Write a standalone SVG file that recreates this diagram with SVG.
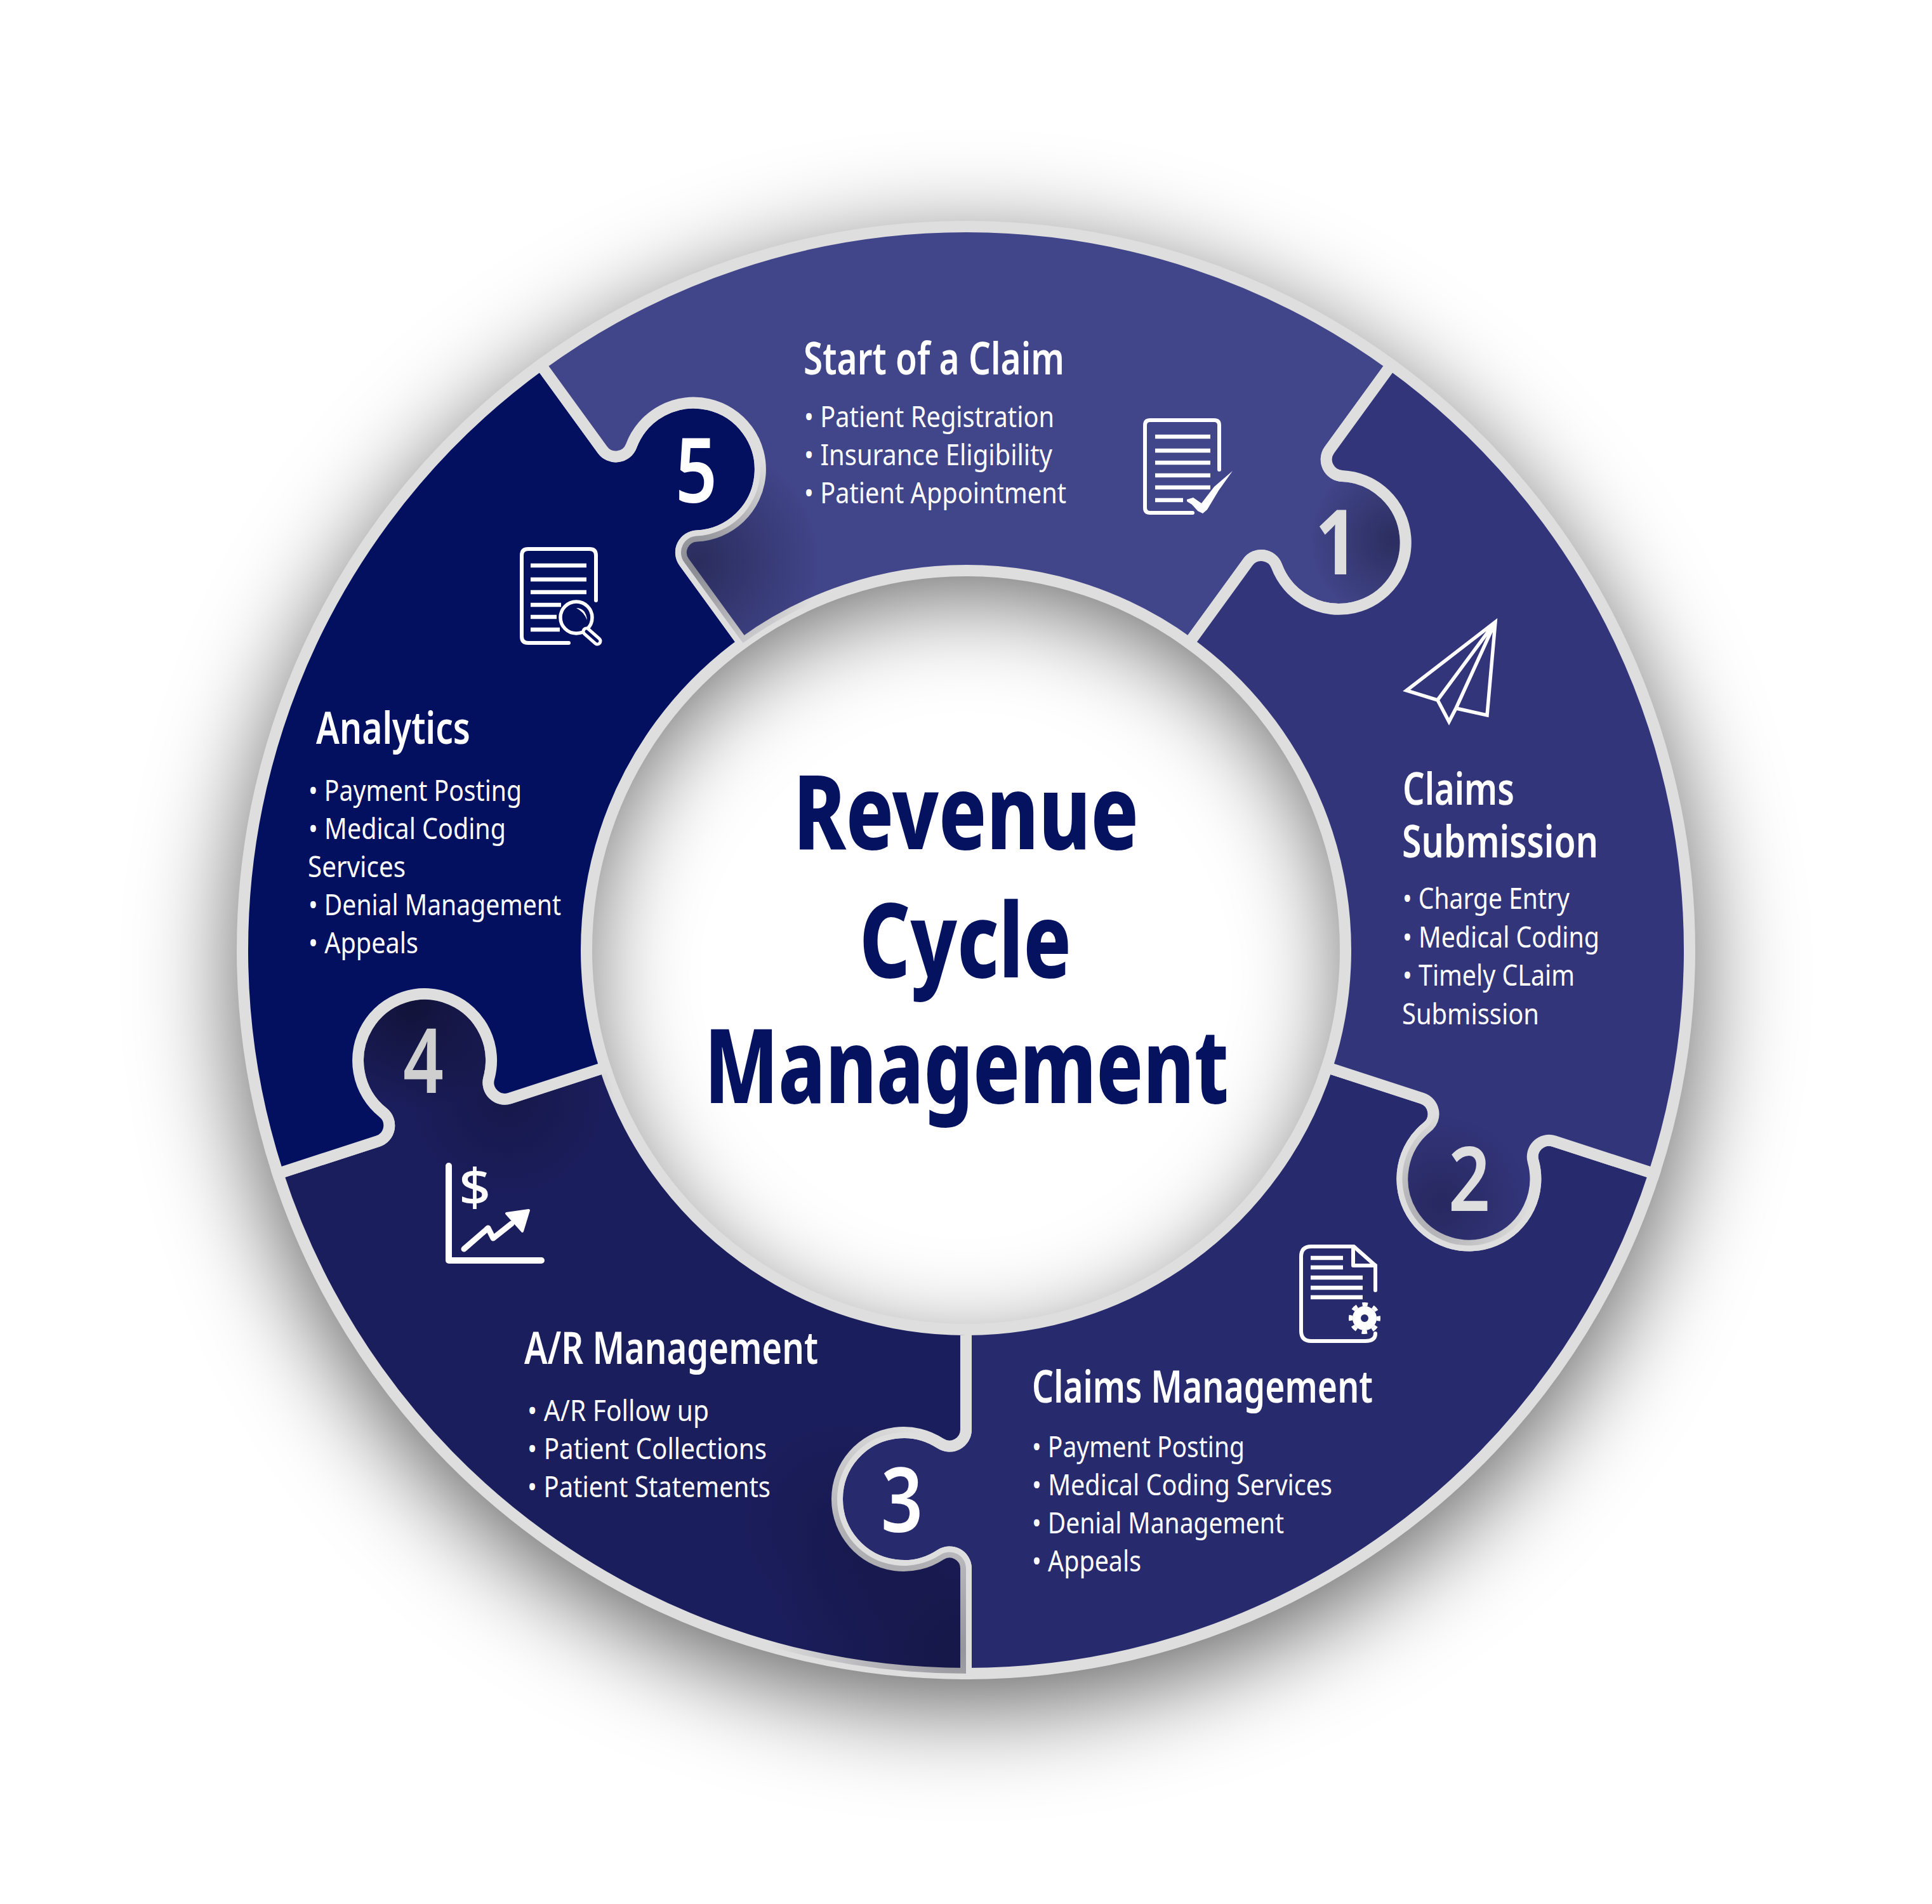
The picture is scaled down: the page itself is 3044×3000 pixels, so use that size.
<svg xmlns="http://www.w3.org/2000/svg" width="3044" height="3000" viewBox="0 0 3044 3000">
<style>
text{font-family:"Noto Sans","Open Sans",sans-serif;fill:#fff}
.h{font-size:70px;font-weight:600}
.b{font-size:46px;font-weight:400}
.t{font-size:162px;font-weight:800;fill:#04125f}
.n{font-size:141px;font-weight:600}
.p{stroke:#dedede;stroke-width:18;stroke-linejoin:miter;stroke-miterlimit:6}
.ic{fill:none;stroke:#fff;stroke-width:6;stroke-linecap:round;stroke-linejoin:round}
.ln{stroke:#fff;stroke-width:6.5;fill:none}
</style>
<defs>
<path id="piece" d="M0 598V755.6A26 26 0 0 1 -40.3 777.3A105 105 0 1 0 -40.3 952.7A26 26 0 0 1 0 974.4V1140A1140 1140 0 0 0 1084.2 352.3L926.7 301.1A26 26 0 0 0 893.6 332.7A105 105 0 1 1 726.8 278.5A26 26 0 0 0 718.6 233.5L568.7 184.8A598 598 0 0 1 0 598Z"/>
<clipPath id="c-start"><use href="#piece" transform="translate(1522 1497) rotate(216)"/></clipPath>
<clipPath id="c-sub"><use href="#piece" transform="translate(1522 1497) rotate(288)"/></clipPath>
<clipPath id="c-ar"><use href="#piece" transform="translate(1522 1497) rotate(72)"/></clipPath>
<radialGradient id="shade"><stop offset="0" stop-color="#0b0b20" stop-opacity="1"/><stop offset=".45" stop-color="#0b0b20" stop-opacity=".55"/><stop offset="1" stop-color="#0b0b20" stop-opacity="0"/></radialGradient>
<filter id="drop" filterUnits="userSpaceOnUse" x="0" y="0" width="3044" height="3000"><feGaussianBlur stdDeviation="80"/></filter>
</defs>
<rect width="3044" height="3000" fill="#fff"/>
<path id="ring-shadow" d="M1522 388a1149 1149 0 1 0 .01 0ZM1522 930a607 607 0 1 1 -.01 0Z" fill="#000" fill-opacity=".62" fill-rule="evenodd" filter="url(#drop)"/>

<g id="piece-claims-management">
<use href="#piece" class="p" fill="#272a6c" transform="translate(1522 1497)"/>
<path class="ic" d="M2167 2033V1994L2133 1964H2066Q2050 1964 2050 1980V2097Q2050 2113 2066 2113H2151Q2167 2113 2167 2101"/>
<path class="ic" d="M2132 1964V1994H2167"/>
<path class="ln" d="M2065 1982H2116M2065 1997H2116M2065 2013H2147M2065 2029H2147M2065 2044H2147"/>
<circle cx="2150" cy="2077" r="12.5" fill="none" stroke="#fff" stroke-width="13"/>
<circle cx="2150" cy="2077" r="22" fill="none" stroke="#fff" stroke-width="6" stroke-dasharray="8.64 8.64" stroke-dashoffset="4.3"/>
<text class="h" x="1626" y="2210" textLength="537" lengthAdjust="spacingAndGlyphs">Claims Management</text>
<text class="b" x="1626" y="2296" textLength="335" lengthAdjust="spacingAndGlyphs">• Payment Posting</text>
<text class="b" x="1626" y="2356" textLength="473" lengthAdjust="spacingAndGlyphs">• Medical Coding Services</text>
<text class="b" x="1626" y="2416" textLength="397" lengthAdjust="spacingAndGlyphs">• Denial Management</text>
<text class="b" x="1626" y="2476" textLength="172" lengthAdjust="spacingAndGlyphs">• Appeals</text>
<text class="n" x="1388" y="2414" textLength="66" lengthAdjust="spacingAndGlyphs">3</text>
</g>

<g id="piece-ar-management">
<use href="#piece" class="p" fill="#1b1e5d" transform="translate(1522 1497) rotate(72)"/>
<g clip-path="url(#c-ar)">
<circle cx="1510" cy="2600" r="300" fill="url(#shade)" opacity=".35"/>
<circle cx="1330" cy="2400" r="190" fill="url(#shade)" opacity=".2"/>
<circle cx="650" cy="1580" r="170" fill="url(#shade)" opacity=".6"/>
<circle cx="800" cy="1730" r="170" fill="url(#shade)" opacity=".3"/>
</g>
<path d="M707 1837V1986H853" fill="none" stroke="#fff" stroke-width="10" stroke-linecap="round" stroke-linejoin="round"/>
<path class="ic" style="stroke-width:9" d="M731 1968L769 1935L777 1951L806 1928"/>
<path d="M798 1912L833 1907L823 1940Z" fill="#fff" stroke="#fff" stroke-width="4" stroke-linejoin="round"/>
<text x="723" y="1900" style="font-size:82px;font-weight:500" textLength="50" lengthAdjust="spacingAndGlyphs">$</text>
<text class="h" x="826" y="2149" textLength="463" lengthAdjust="spacingAndGlyphs">A/R Management</text>
<text class="b" x="831" y="2239" textLength="286" lengthAdjust="spacingAndGlyphs">• A/R Follow up</text>
<text class="b" x="831" y="2299" textLength="377" lengthAdjust="spacingAndGlyphs">• Patient Collections</text>
<text class="b" x="831" y="2359" textLength="383" lengthAdjust="spacingAndGlyphs">• Patient Statements</text>
<text class="n" x="635" y="1722" textLength="64" lengthAdjust="spacingAndGlyphs" style="fill:#cfcfcf">4</text>
</g>

<g id="piece-analytics">
<use href="#piece" class="p" fill="#031060" transform="translate(1522 1497) rotate(144)"/>
<path class="ic" d="M939 946V875Q939 865 929 865H832Q822 865 822 875V1003Q822 1013 832 1013H896"/>
<path class="ln" d="M836 891H924M836 913H924M836 933H924M836 953H884M836 972H877M836 992H882"/>
<circle cx="908" cy="973" r="25" fill="none" stroke="#fff" stroke-width="5.5"/>
<path d="M924 995L941 1010" stroke="#fff" stroke-width="15" stroke-linecap="round"/>
<path d="M924 995L941 1010" stroke="#031060" stroke-width="5" stroke-linecap="round"/>
<path d="M908 958Q923 958 925 977Q920 964 908 958Z" fill="#fff"/>
<text class="h" x="498" y="1172" textLength="243" lengthAdjust="spacingAndGlyphs">Analytics</text>
<text class="b" x="486" y="1262" textLength="336" lengthAdjust="spacingAndGlyphs">• Payment Posting</text>
<text class="b" x="486" y="1322" textLength="311" lengthAdjust="spacingAndGlyphs">• Medical Coding</text>
<text class="b" x="485" y="1382" textLength="154" lengthAdjust="spacingAndGlyphs">Services</text>
<text class="b" x="486" y="1442" textLength="398" lengthAdjust="spacingAndGlyphs">• Denial Management</text>
<text class="b" x="486" y="1502" textLength="173" lengthAdjust="spacingAndGlyphs">• Appeals</text>
<text class="n" x="1064" y="792" textLength="66" lengthAdjust="spacingAndGlyphs">5</text>
</g>

<g id="piece-start-of-a-claim">
<use href="#piece" class="p" fill="#414589" transform="translate(1522 1497) rotate(216)"/>
<g clip-path="url(#c-start)">
<circle cx="1100" cy="885" r="190" fill="url(#shade)" opacity=".42"/>
<circle cx="2195" cy="850" r="130" fill="url(#shade)" opacity=".4"/>
</g>
<path class="ic" d="M1921 740V670Q1921 662 1913 662H1812Q1804 662 1804 670V800Q1804 808 1812 808H1879"/>
<path class="ln" d="M1820 688H1907M1820 710H1907M1820 729H1907M1820 749H1907M1820 768H1907M1820 788H1864"/>
<path d="M1870 787L1880 784L1893 793L1913 767L1942 742L1920 773L1902 803L1895 809L1887 805L1878 795L1870 790Z" fill="#fff"/>
<text class="h" x="1266" y="590" textLength="411" lengthAdjust="spacingAndGlyphs">Start of a Claim</text>
<text class="b" x="1267" y="673" textLength="394" lengthAdjust="spacingAndGlyphs">• Patient Registration</text>
<text class="b" x="1267" y="733" textLength="391" lengthAdjust="spacingAndGlyphs">• Insurance Eligibility</text>
<text class="b" x="1267" y="793" textLength="413" lengthAdjust="spacingAndGlyphs">• Patient Appointment</text>
<text class="n" x="2072" y="905" textLength="68" lengthAdjust="spacingAndGlyphs" style="fill:#dedede;font-weight:700">1</text>
</g>

<g id="piece-claims-submission">
<use href="#piece" class="p" fill="#33357b" transform="translate(1522 1497) rotate(288)"/>
<g clip-path="url(#c-sub)">
<circle cx="2270" cy="1895" r="140" fill="url(#shade)" opacity=".3"/>
</g>
<path d="M2356 980L2216 1088L2265 1103L2283 1137L2294 1116L2343 1127ZM2356 980L2265 1103M2356 980L2294 1116" fill="none" stroke="#fff" stroke-width="5.5" stroke-linejoin="miter"/>
<text class="h" x="2210" y="1268" textLength="176" lengthAdjust="spacingAndGlyphs">Claims</text>
<text class="h" x="2209" y="1351" textLength="309" lengthAdjust="spacingAndGlyphs">Submission</text>
<text class="b" x="2210" y="1432" textLength="263" lengthAdjust="spacingAndGlyphs">• Charge Entry</text>
<text class="b" x="2210" y="1493" textLength="310" lengthAdjust="spacingAndGlyphs">• Medical Coding</text>
<text class="b" x="2210" y="1553" textLength="271" lengthAdjust="spacingAndGlyphs">• Timely CLaim</text>
<text class="b" x="2209" y="1614" textLength="216" lengthAdjust="spacingAndGlyphs">Submission</text>
<text class="n" x="2282" y="1908" textLength="66" lengthAdjust="spacingAndGlyphs" style="fill:#dedede">2</text>
</g>

<g id="center-title">
<text class="t" x="1250" y="1338" textLength="544" lengthAdjust="spacingAndGlyphs">Revenue</text>
<text class="t" x="1354" y="1540" textLength="334" lengthAdjust="spacingAndGlyphs">Cycle</text>
<text class="t" x="1110" y="1738" textLength="826" lengthAdjust="spacingAndGlyphs">Management</text>
</g>
</svg>
